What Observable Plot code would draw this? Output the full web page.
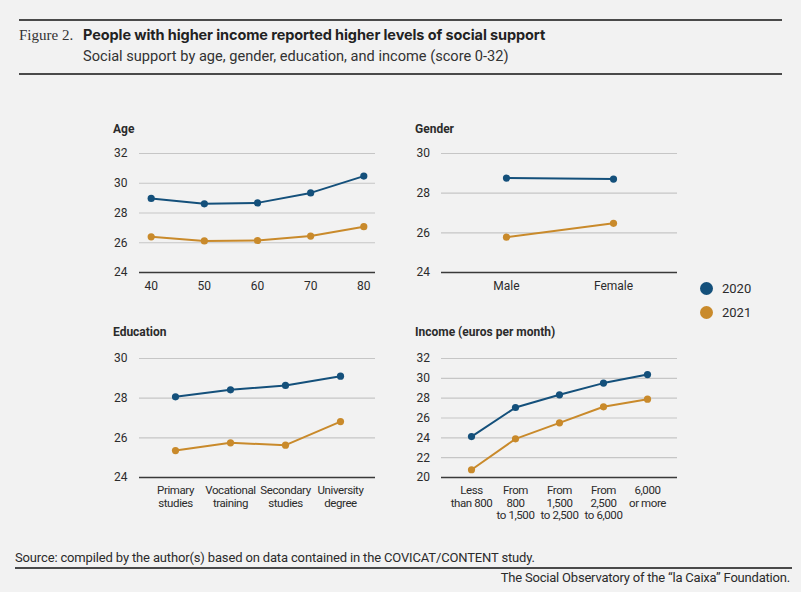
<!DOCTYPE html>
<html>
<head>
<meta charset="utf-8">
<script src="https://cdn.jsdelivr.net/npm/d3@7"></script>
<script src="https://cdn.jsdelivr.net/npm/@observablehq/plot@0.6"></script>
<style>
  html, body { margin: 0; padding: 0; background: #f2f2f2; }
  #root { position: relative; width: 801px; height: 592px; background: #f2f2f2; overflow: hidden; font-family: Roboto, "Noto Sans", sans-serif; color: #2b2b2b; }
  .abs { position: absolute; white-space: nowrap; }
  .rule { position: absolute; background: #4a4a4a; }
  .ptitle { font-weight: 700; font-size: 12px; line-height: 14px; color: #2b2b2b; }
  .panel { position: absolute; }
  .tight svg g[aria-label="x-axis tick label"] text { letter-spacing: -0.4px; }
  .lg-dot { position: absolute; width: 13px; height: 13px; border-radius: 50%; }
  .lg-txt { position: absolute; font-size: 13px; line-height: 16px; color: #2b2b2b; }
</style>
</head>
<body>
<div id="root">
  <div class="rule" style="left:19px; top:19px; width:763px; height:2px;"></div>
  <div class="abs" style="left:19px; top:27px; font-family:'Liberation Serif', 'DejaVu Serif', serif; font-size:15px; line-height:17px; color:#333;">Figure 2.</div>
  <div class="abs" style="left:83px; top:26px; font-family:Inter, Roboto, sans-serif; font-size:14.5px; line-height:17px; font-weight:700; color:#222; letter-spacing:-0.1px;">People with higher income reported higher levels of social support</div>
  <div class="abs" style="left:83px; top:48px; font-size:14.6px; line-height:17px; color:#333;">Social support by age, gender, education, and income (score 0-32)</div>
  <div class="rule" style="left:19px; top:73px; width:763px; height:2px;"></div>

  <div class="abs ptitle" style="left:113px; top:122px;">Age</div>
  <div class="abs ptitle" style="left:415px; top:122px;">Gender</div>
  <div class="abs ptitle" style="left:113px; top:325px;">Education</div>
  <div class="abs ptitle" style="left:415px; top:325px;">Income (euros per month)</div>

  <div id="age" class="panel" style="left:100px; top:140px;"></div>
  <div id="gender" class="panel" style="left:400px; top:140px;"></div>
  <div id="education" class="panel tight" style="left:100px; top:345px;"></div>
  <div id="income" class="panel tight" style="left:400px; top:345px;"></div>

  <div id="legend"></div>

  <div class="abs" style="left:15px; top:550px; font-size:13px; line-height:16px; letter-spacing:-0.15px; color:#2b2b2b;">Source: compiled by the author(s) based on data contained in the COVICAT/CONTENT study.</div>
  <div class="rule" style="left:15px; top:567px; width:777px; height:2px;"></div>
  <div class="abs" style="right:11px; top:570px; font-size:13px; line-height:16px; letter-spacing:-0.2px; color:#2b2b2b;">The Social Observatory of the “la Caixa” Foundation.</div>
</div>
<script>
// ---- data ----
const years = ["2020", "2021"];
const yearColors = ["#14507b", "#c98a2b"];

const ageGroups = [40, 50, 60, 70, 80];
const age2020 = [28.98, 28.62, 28.68, 29.35, 30.48];
const age2021 = [26.40, 26.12, 26.15, 26.45, 27.08];
const ageTicks = [24, 26, 28, 30, 32];

const genders = ["Male", "Female"];
const gender2020 = [28.76, 28.71];
const gender2021 = [25.78, 26.48];
const genderTicks = [24, 26, 28, 30];

const educationLevels = ["Primary\nstudies", "Vocational\ntraining", "Secondary\nstudies", "University\ndegree"];
const education2020 = [28.07, 28.42, 28.64, 29.11];
const education2021 = [25.36, 25.75, 25.63, 26.82];
const educationTicks = [24, 26, 28, 30];

const incomeBands = ["Less\nthan 800", "From\n800\nto 1,500", "From\n1,500\nto 2,500", "From\n2,500\nto 6,000", "6,000\nor more"];
const income2020 = [24.13, 27.06, 28.34, 29.52, 30.38];
const income2021 = [20.78, 23.90, 25.51, 27.13, 27.90];
const incomeTicks = [20, 22, 24, 26, 28, 30, 32];

function rows(cats, v2020, v2021) {
  const out = [];
  cats.forEach((c, i) => out.push({cat: c, year: "2020", value: v2020[i]}));
  cats.forEach((c, i) => out.push({cat: c, year: "2021", value: v2021[i]}));
  return out;
}

function panel({data, xScale, xTicks, yTicks, marginLeft, marginBottom, tickPaddingY, xFontSize}) {
  const plotW = 236, plotH = 119;
  return Plot.plot({
    width: marginLeft + plotW + 10,
    height: 13 + plotH + marginBottom,
    marginLeft,
    marginRight: 10,
    marginTop: 13,
    marginBottom,
    style: {background: "transparent", fontFamily: "Roboto, 'Noto Sans', sans-serif", fontSize: "12px", color: "#2b2b2b", overflow: "visible"},
    x: {...xScale, label: null},
    y: {domain: [yTicks[0], yTicks[yTicks.length - 1]], label: null},
    color: {domain: years, range: yearColors},
    marks: [
      Plot.ruleY(yTicks.slice(1), {stroke: "#c6c6c6", strokeWidth: 1.2}),
      Plot.axisY({ticks: yTicks, tickFormat: "d", tickSize: 0, tickPadding: tickPaddingY, label: null, fontSize: 12}),
      Plot.axisX({ticks: xTicks, tickSize: 0, tickPadding: 8, label: null, fontSize: xFontSize, lineHeight: 1.08}),
      Plot.ruleY([yTicks[0]], {stroke: "#3a3a3a", strokeWidth: 1.6}),
      Plot.line(data, {x: "cat", y: "value", z: "year", stroke: "year", strokeWidth: 2}),
      Plot.dot(data, {x: "cat", y: "value", fill: "year", r: 3.6})
    ]
  });
}

document.getElementById("age").appendChild(panel({
  data: rows(ageGroups, age2020, age2021),
  xScale: {type: "linear", domain: [37.8, 82.2]}, xTicks: ageGroups,
  yTicks: ageTicks, marginLeft: 39, marginBottom: 30, tickPaddingY: 12, xFontSize: 12
}));

document.getElementById("gender").appendChild(panel({
  data: rows(genders, gender2020, gender2021),
  xScale: {type: "point", domain: genders, padding: 0.6}, xTicks: genders,
  yTicks: genderTicks, marginLeft: 41, marginBottom: 30, tickPaddingY: 11.5, xFontSize: 12
}));

document.getElementById("education").appendChild(panel({
  data: rows(educationLevels, education2020, education2021),
  xScale: {type: "point", domain: educationLevels, padding: 0.61}, xTicks: educationLevels,
  yTicks: educationTicks, marginLeft: 39, marginBottom: 45, tickPaddingY: 12, xFontSize: 11.5
}));

document.getElementById("income").appendChild(panel({
  data: rows(incomeBands, income2020, income2021),
  xScale: {type: "point", domain: incomeBands, padding: 0.63}, xTicks: incomeBands,
  yTicks: incomeTicks, marginLeft: 41, marginBottom: 55, tickPaddingY: 11.5, xFontSize: 11.5
}));

// legend
const legend = document.getElementById("legend");
years.forEach((y, i) => {
  const cy = 288.5 + i * 24.3;
  const d = document.createElement("div");
  d.className = "lg-dot";
  d.style.left = (706.7 - 6.5) + "px";
  d.style.top = (cy - 6.5) + "px";
  d.style.background = yearColors[i];
  legend.appendChild(d);
  const t = document.createElement("div");
  t.className = "lg-txt";
  t.style.left = "722px";
  t.style.top = (cy - 8) + "px";
  t.textContent = y;
  legend.appendChild(t);
});
</script>
</body>
</html>
